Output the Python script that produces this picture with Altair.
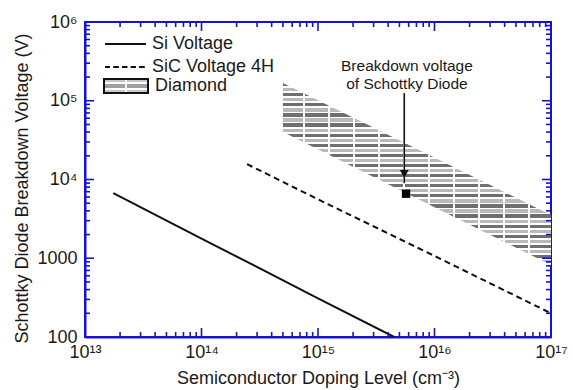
import altair as alt
import pandas as pd
import math

# ---------------- data ----------------
si_x = [1.75e13, 1e14, 1e15, 4.5e15]
si_y = [6700, 1780, 310, 100]

sic_x = [2.46e14, 1e15, 1e16, 1e17]
sic_y = [15700, 5600, 1070, 200]

dia_x = [5e14, 1e17]
dia_top = [1.68e5, 3540]
dia_bot = [4.0e4, 820]

point_x = [5.7e15]
point_y = [6600]

arrow_x = [5.5e15]
arrow_top = [1.25e5]
arrow_bot = [9000]
arrow_head = [11750]

note_lines = ["Breakdown voltage", "of Schottky Diode"]
note_x = [5.8e15, 5.8e15]
note_y = [2.76e5, 1.63e5]

x_major = [1e13, 1e14, 1e15, 1e16, 1e17]
x_labels = ["10¹³", "10¹⁴", "10¹⁵", "10¹⁶", "10¹⁷"]
y_major = [1e2, 1e3, 1e4, 1e5, 1e6]
y_labels = ["100", "1000", "10⁴", "10⁵", "10⁶"]

legend_names = ["Si Voltage", "SiC Voltage 4H", "Diamond"]

# ---------------- styling ----------------
W, H = 466, 315
BLUE = "#1414cc"
INK = "#1a1a1a"
FONT = "Liberation Sans"

x_minor = [k * 10 ** d for d in range(13, 17) for k in range(2, 10)]
y_minor = [k * 10 ** d for d in range(2, 6) for k in range(2, 10)]

def label_expr(vals, labs):
    expr = "''"
    for v, l in zip(reversed(vals), reversed(labs)):
        expr = f"(abs(log(datum.value) / log(10) - {round(math.log10(v))}) < 0.01) ? '{l}' : {expr}"
    return expr

xs = alt.Scale(type="log", domain=[1e13, 1e17], nice=False)
ys = alt.Scale(type="log", domain=[100, 1e6], nice=False)

x_axis = alt.Axis(values=x_major, labelExpr=label_expr(x_major, x_labels), ticks=False,
                  grid=False, domainColor=BLUE, domainWidth=2, labelFont=FONT,
                  labelFontSize=18, labelColor=INK, labelPadding=6, labelFlush=False,
                  labelOverlap=False,
                  title="Semiconductor Doping Level (cm⁻³)", titleFont=FONT,
                  titleFontSize=18, titleFontWeight="normal", titleColor=INK,
                  titleX=W / 2, titleY=41, titleBaseline="middle", titleAlign="center")
y_axis = alt.Axis(values=y_major, labelExpr=label_expr(y_major, y_labels), ticks=False,
                  grid=False, domainColor=BLUE, domainWidth=2, labelFont=FONT,
                  labelFontSize=18, labelColor=INK, labelPadding=8, labelFlush=False,
                  labelOverlap=False,
                  title="Schottky Diode Breakdown Voltage (V)", titleFont=FONT,
                  titleFontSize=18, titleFontWeight="normal", titleColor=INK,
                  titleX=-63, titleY=166, titleBaseline="middle", titleAlign="center",
                  titleAngle=270)

def X(field):
    return alt.X(field, scale=xs, axis=x_axis)

def Y(field):
    return alt.Y(field, scale=ys, axis=y_axis)

# stripes gradient for the diamond band
DARK, LIGHT, WHITE, CLEAR = "#6f6f6f", "#b9b9b9", "#ffffff", "rgba(255,255,255,0)"
band_h, period, thick = 180.0, 5.0, 3.2
stops = []
i = 0
while (i + 1) * period <= band_h + 0.01:
    c = DARK if i % 2 == 0 else LIGHT
    a, b, e = i * period / band_h, (i * period + thick) / band_h, (i + 1) * period / band_h
    stops += [(a, c), (b, c), (b, WHITE), (min(e, 1.0), WHITE)]
    i += 1
h_grad = alt.LinearGradient(gradient="linear", x1=0, y1=0, x2=0, y2=1,
                            stops=[alt.GradientStop(color=c, offset=min(o, 1.0)) for o, c in stops])

band_w, vstep, vstart, vw = 268.0, 25.0, 20.0, 1.6
vstops = [(0.0, CLEAR)]
p = vstart
while p + vw < band_w:
    vstops += [(p / band_w, CLEAR), (p / band_w, WHITE), ((p + vw) / band_w, WHITE), ((p + vw) / band_w, CLEAR)]
    p += vstep
vstops.append((1.0, CLEAR))
v_grad = alt.LinearGradient(gradient="linear", x1=0, y1=0, x2=1, y2=0,
                            stops=[alt.GradientStop(color=c, offset=o) for o, c in vstops])

leg_grad = alt.LinearGradient(gradient="linear", x1=0, y1=0, x2=0, y2=1, stops=[
    alt.GradientStop(color="#c8c8c8", offset=0), alt.GradientStop(color="#c8c8c8", offset=0.22),
    alt.GradientStop(color=WHITE, offset=0.22), alt.GradientStop(color=WHITE, offset=0.38),
    alt.GradientStop(color="#a0a0a0", offset=0.38), alt.GradientStop(color="#a0a0a0", offset=0.62),
    alt.GradientStop(color=WHITE, offset=0.62), alt.GradientStop(color=WHITE, offset=0.78),
    alt.GradientStop(color="#c8c8c8", offset=0.78), alt.GradientStop(color="#c8c8c8", offset=1)])

# ---------------- layers ----------------
dia_df = pd.DataFrame({"x": dia_x, "top": dia_top, "bot": dia_bot})
band = alt.Chart(dia_df).mark_area(color=h_grad, clip=True).encode(
    x=X("x:Q"), y=Y("top:Q"), y2="bot:Q")
band_v = alt.Chart(dia_df).mark_area(color=v_grad, clip=True).encode(
    x=X("x:Q"), y=Y("top:Q"), y2="bot:Q")

si = alt.Chart(pd.DataFrame({"x": si_x, "y": si_y})).mark_line(
    color="#111111", strokeWidth=2, clip=True).encode(x=X("x:Q"), y=Y("y:Q"))
sic = alt.Chart(pd.DataFrame({"x": sic_x, "y": sic_y})).mark_line(
    color="#111111", strokeWidth=2, strokeDash=[6, 4], clip=True).encode(x=X("x:Q"), y=Y("y:Q"))

arrow_df = pd.DataFrame({"x": arrow_x, "top": arrow_top, "bot": arrow_bot, "head": arrow_head})
arrow_line = alt.Chart(arrow_df).mark_rule(color="#111111", strokeWidth=1.6).encode(
    x=X("x:Q"), y=Y("top:Q"), y2="bot:Q")
arrow_tip = alt.Chart(arrow_df).mark_point(shape="triangle-down", filled=True, color="#111111",
                                           size=80, opacity=1).encode(x=X("x:Q"), y=Y("head:Q"))

square = alt.Chart(pd.DataFrame({"x": point_x, "y": point_y})).mark_square(
    color="#000000", size=70, opacity=1).encode(x=X("x:Q"), y=Y("y:Q"))

note = alt.Chart(pd.DataFrame({"x": note_x, "y": note_y, "t": note_lines})).mark_text(
    font=FONT, fontSize=15.5, color=INK, align="center", baseline="middle").encode(
    x=X("x:Q"), y=Y("y:Q"), text="t:N")

# inward ticks on all four sides
def xticks(vals, length, top):
    df = pd.DataFrame({"x": vals})
    y0, y1 = (0, length) if top else (H, H - length)
    return alt.Chart(df).mark_rule(color=BLUE, strokeWidth=1.6).encode(
        x=X("x:Q"), y=alt.value(y0), y2=alt.value(y1))

def yticks(vals, length, right):
    df = pd.DataFrame({"y": vals})
    x0, x1 = (W, W - length) if right else (0, length)
    return alt.Chart(df).mark_rule(color=BLUE, strokeWidth=1.6).encode(
        y=Y("y:Q"), x=alt.value(x0), x2=alt.value(x1))

ticks = [xticks(x_major, 9, False), xticks(x_minor, 5, False),
         xticks(x_major, 9, True), xticks(x_minor, 5, True),
         yticks(y_major, 9, False), yticks(y_minor, 5, False),
         yticks(y_major, 9, True), yticks(y_minor, 5, True)]

# legend (drawn in the plot's own pixel frame)
leg_base = alt.Chart(pd.DataFrame({"t": legend_names}))
leg_si = leg_base.mark_rule(color="#111111", strokeWidth=2).encode(
    x=alt.value(20), x2=alt.value(61), y=alt.value(22))
leg_sic = leg_base.mark_rule(color="#111111", strokeWidth=2, strokeDash=[5, 3.6]).encode(
    x=alt.value(20), x2=alt.value(62), y=alt.value(45))
leg_box = leg_base.mark_rect(fill=leg_grad, stroke="#111111", strokeWidth=2).encode(
    x=alt.value(19), x2=alt.value(63), y=alt.value(57), y2=alt.value(71))
leg_boxline = leg_base.mark_rule(color=WHITE, strokeWidth=1).encode(
    x=alt.value(41), y=alt.value(58), y2=alt.value(70))
leg_text = alt.Chart(pd.DataFrame({"t": legend_names, "px": [67, 67, 70], "py": [22, 45, 64]})).mark_text(
    font=FONT, fontSize=18, color=INK, align="left", baseline="middle").encode(
    x=alt.X("px:Q", scale=None), y=alt.Y("py:Q", scale=None), text="t:N")

chart = alt.layer(band, band_v, sic, si, *ticks, arrow_line, arrow_tip, square, note,
                  leg_si, leg_sic, leg_box, leg_boxline, leg_text).properties(
    width=W, height=H,
    autosize=alt.AutoSizeParams(type="none"),
    padding={"left": 85, "top": 22, "right": 22, "bottom": 53},
    background="white",
).configure_view(stroke=BLUE, strokeWidth=2)

chart.save("out.html", embed_options={"renderer": "svg", "actions": False})
